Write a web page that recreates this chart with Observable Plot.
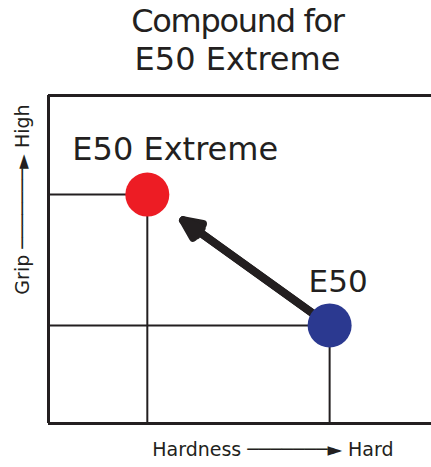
<!DOCTYPE html>
<html><head><meta charset="utf-8">
<script src="https://cdn.jsdelivr.net/npm/d3@7"></script>
<script src="https://cdn.jsdelivr.net/npm/@observablehq/plot@0.6"></script>
<style>
body{margin:0;background:#fff;}
#title{height:84px;box-sizing:border-box;padding:2px 0 0 44px;text-align:center;font-family:"DejaVu Sans";font-size:32px;line-height:38px;color:#231f20;}
</style></head><body>
<div id="title"><div style="letter-spacing:-1.3px">Compound for</div><div>E50 Extreme</div></div>
<div id="chart"></div>
<script>
const compounds = ["E50 Extreme", "E50"];
const hardness = [25.8, 73.4];
const grip = [69.8, 29.9];
const colors = ["#ed1c24", "#2b3990"];
const xAxisLabel = "Hardness ───────► Hard";
const yAxisLabel = "Grip ───────► High";

const data = compounds.map((name, i) => ({name, hardness: hardness[i], grip: grip[i], color: colors[i]}));
const move = [{x1: hardness[1], y1: grip[1], x2: hardness[0], y2: grip[0]}];
const ink = "#231f20";
const arrowOpts = {x1: "x1", y1: "y1", x2: "x2", y2: "y2", stroke: ink, strokeWidth: 8, headLength: 3.8, insetEnd: 44};

const chart = Plot.plot({
  width: 431, height: 383,
  marginTop: 11, marginLeft: 48, marginRight: 0, marginBottom: 44,
  style: {fontFamily: "DejaVu Sans", background: "#fff", color: ink},
  x: {domain: [0, 100], axis: null},
  y: {domain: [0, 100], axis: null},
  color: {type: "identity"},
  marks: [
    Plot.ruleX(data, {x: "hardness", y1: 0, y2: "grip", stroke: ink, strokeWidth: 2}),
    Plot.ruleY(data, {y: "grip", x1: 0, x2: "hardness", stroke: ink, strokeWidth: 2}),
    Plot.ruleX([0], {stroke: ink, strokeWidth: 3}),
    Plot.ruleY([0, 100], {stroke: ink, strokeWidth: 3}),
    Plot.arrow(move, {...arrowOpts, headAngle: 50}),
    Plot.arrow(move, {...arrowOpts, headAngle: 24}),
    Plot.dot(data, {x: "hardness", y: "grip", r: 22, fill: "color"}),
    Plot.text([data[0]], {x: "hardness", y: "grip", text: "name", textAnchor: "start", lineAnchor: "bottom", dx: -75, dy: -35, fontSize: 32, fill: ink}),
    Plot.text([data[1]], {x: "hardness", y: "grip", text: "name", textAnchor: "start", lineAnchor: "bottom", dx: -21, dy: -33, fontSize: 31, fill: ink}),
    Plot.text([xAxisLabel], {frameAnchor: "bottom-right", textAnchor: "end", lineAnchor: "bottom", dx: -38, dy: 32, fontSize: 19, fill: ink}),
    Plot.text([yAxisLabel], {frameAnchor: "left", rotate: -90, textAnchor: "middle", lineAnchor: "bottom", dx: -20, dy: -60, fontSize: 19, fill: ink})
  ]
});
document.getElementById("chart").appendChild(chart);
</script>
</body></html>
